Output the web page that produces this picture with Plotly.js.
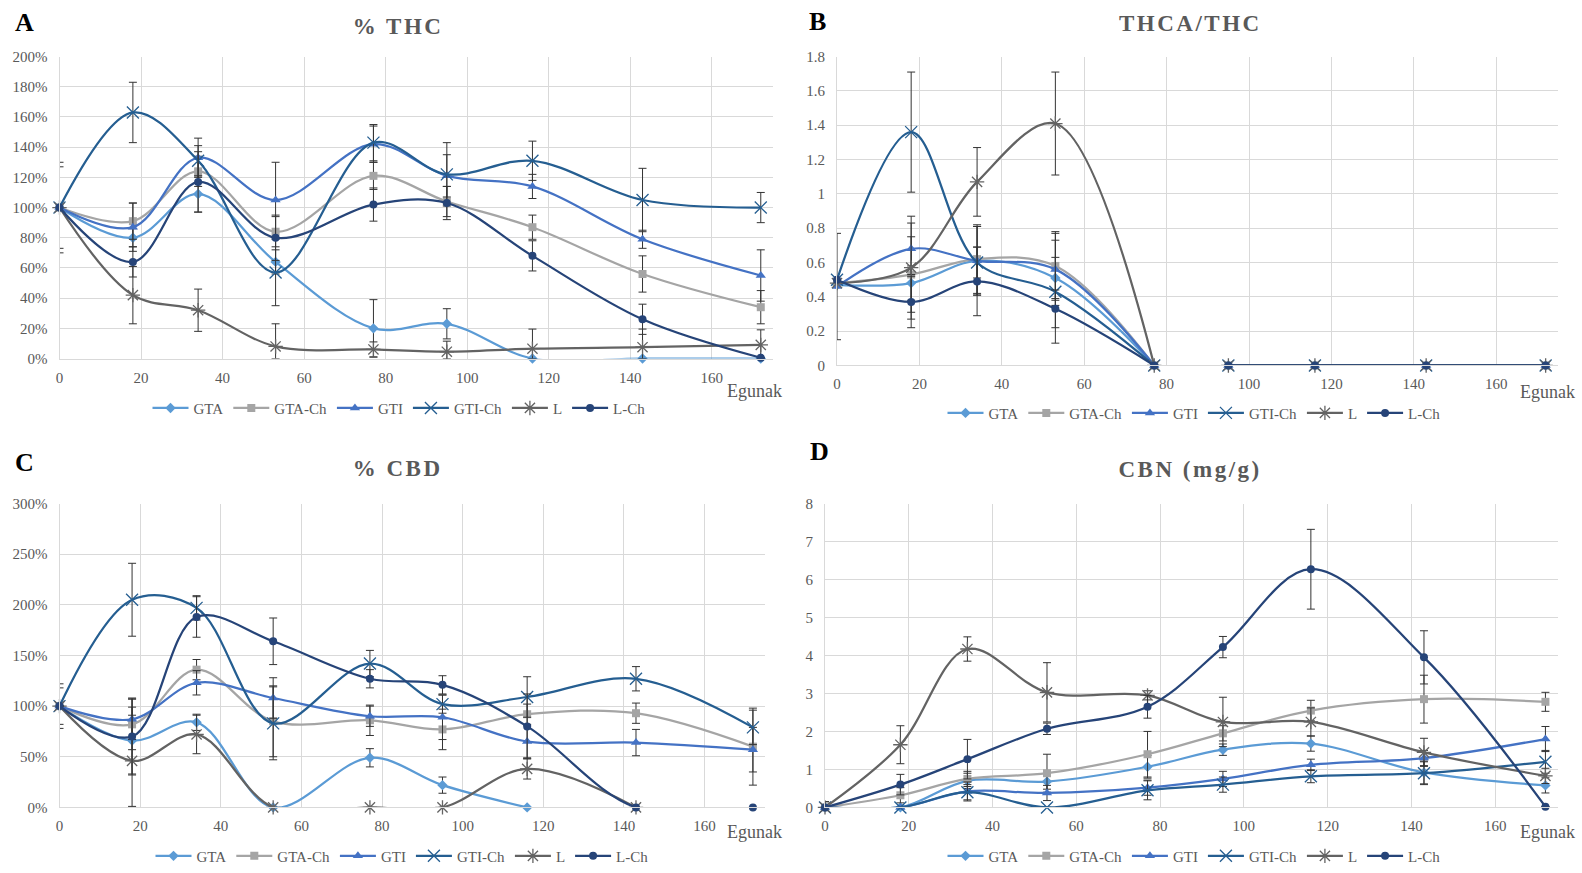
<!DOCTYPE html>
<html>
<head>
<meta charset="utf-8">
<script src="https://cdn.plot.ly/plotly-3.0.1.min.js"></script>
<style>
  html, body { margin: 0; padding: 0; background: #fff; }
  #chart { width: 1582px; height: 873px; }
</style>
</head>
<body>
<div id="chart"></div>
<script>
// ---------- DATA ----------
const days = [0, 18, 34, 53, 77, 95, 116, 143, 172];
const seriesNames = ['GTA', 'GTA-Ch', 'GTI', 'GTI-Ch', 'L', 'L-Ch'];
const panelTitles = ['% THC', 'THCA/THC', '% CBD', 'CBN (mg/g)'];
const panelLetters = ['A', 'B', 'C', 'D'];
const xAxisLabel = 'Egunak';

// A: % THC
const thcGTA    = [100, 80, 109, 64, 20, 23, 0, 0, 0];
const thcGTACh  = [100, 91, 124, 84, 121, 104, 87, 56, 34];
const thcGTI    = [100, 87, 133, 105, 142, 121, 114, 79, 55];
const thcGTICh  = [100, 163, 131, 57, 143, 122, 131, 105, 100];
const thcL      = [100, 42, 32, 8, 6, 4.5, 6.5, 7.5, 9];
const thcLCh    = [100, 64, 117, 80, 102, 103, 68, 26, 0.5];
const thcGTAErr   = [0, 6, 12, 8, 19, 10, 0, 0, 0];
const thcGTAChErr = [0, 12, 10, 10, 9, 10, 8, 12, 11];
const thcGTIErr   = [0, 16, 13, 25, 12, 14, 8, 6, 17];
const thcGTIChErr = [0, 20, 10, 22, 12, 21, 13, 21, 10];
const thcLErr     = [30, 19, 14, 15, 5, 7, 13, 12, 10];
const thcLChErr   = [27, 10, 20, 15, 11, 11, 10, 10, 0];

// B: THCA/THC
const rGTA    = [0.47, 0.48, 0.61, 0.51, 0, 0, 0, 0, 0];
const rGTACh  = [0.48, 0.53, 0.62, 0.58, 0, 0, 0, 0, 0];
const rGTI    = [0.46, 0.68, 0.61, 0.56, 0, 0, 0, 0, 0];
const rGTICh  = [0.50, 1.36, 0.60, 0.43, 0, 0, 0, 0, 0];
const rL      = [0.48, 0.57, 1.07, 1.41, 0, 0, 0, 0, 0];
const rLCh    = [0.50, 0.37, 0.49, 0.33, 0, 0, 0, 0, 0];
const rGTAErr   = [0, 0.10, 0.20, 0.12, 0, 0, 0, 0, 0];
const rGTAChErr = [0, 0.22, 0.20, 0.20, 0, 0, 0, 0, 0];
const rGTIErr   = [0.31, 0.15, 0.20, 0.21, 0, 0, 0, 0, 0];
const rGTIChErr = [0, 0.35, 0.09, 0.30, 0, 0, 0, 0, 0];
const rLErr     = [0, 0.30, 0.20, 0.30, 0, 0, 0, 0, 0];
const rLChErr   = [0, 0.15, 0.20, 0.11, 0, 0, 0, 0, 0];
const rBreakAfter = 4; // the THCA/THC lines break between day 77 and day 95

// C: % CBD
const cbdGTA    = [100, 66, 84, 0, 49, 22, 0, null, null];
const cbdGTACh  = [100, 82, 136, 85, 86, 77, 92, 93, 60];
const cbdGTI    = [100, 87, 123, 108, 90, 89, 65, 64, 57];
const cbdGTICh  = [100, 205, 197, 83, 142, 102, 109, 127, 79];
const cbdL      = [100, 46, 72, 0, 0, 0, 38, 0, null];
const cbdLCh    = [100, 70, 188, 164, 127, 121, 80, 0, 0];
const cbdGTAErr   = [0, 33, 8, 0, 9, 8, 0, 0, 0];
const cbdGTAChErr = [18, 25, 10, 35, 15, 20, 10, 10, 38];
const cbdGTIErr   = [0, 20, 12, 20, 10, 22, 16, 13, 22];
const cbdGTIChErr = [22, 36, 12, 36, 13, 9, 20, 12, 17];
const cbdLErr     = [0, 45, 19, 0, 0, 0, 10, 0, 0];
const cbdLChErr   = [0, 38, 20, 23, 9, 9, 32, 0, 0];

// D: CBN (mg/g)
const cbnGTA    = [0, 0, 0.70, 0.68, 1.07, 1.52, 1.68, 0.92, 0.58];
const cbnGTACh  = [0, 0.32, 0.75, 0.90, 1.40, 1.95, 2.55, 2.85, 2.78];
const cbnGTI    = [0, 0, 0.42, 0.38, 0.52, 0.75, 1.12, 1.30, 1.80];
const cbnGTICh  = [0, 0, 0.40, 0, 0.45, 0.60, 0.82, 0.90, 1.20];
const cbnL      = [0, 1.65, 4.17, 3.03, 2.95, 2.25, 2.25, 1.45, 0.83];
const cbnLCh    = [0, 0.60, 1.27, 2.07, 2.65, 4.22, 6.27, 3.95, 0.02];
const cbnGTAErr   = [0, 0, 0.2, 0.2, 0.3, 0.15, 0.2, 0.3, 0.2];
const cbnGTAChErr = [0.15, 0.2, 0.2, 0.5, 0.6, 0.2, 0.27, 0.63, 0.25];
const cbnGTIErr   = [0, 0, 0.25, 0.2, 0.2, 0.2, 0.15, 0.2, 0.33];
const cbnGTIChErr = [0, 0, 0.2, 0, 0.25, 0.2, 0.17, 0.3, 0.3];
const cbnLErr     = [0.15, 0.5, 0.32, 0.78, 0.12, 0.65, 0.37, 0.37, 0.2];
const cbnLChErr   = [0, 0.27, 0.52, 0.15, 0.3, 0.28, 1.05, 0.7, 0];

// ---------- STYLE ----------
const W = 1582, H = 873;
const styles = [
  {color: '#5B9BD5', symbol: 'diamond', size: 8},
  {color: '#A5A5A5', symbol: 'square', size: 8},
  {color: '#4472C4', symbol: 'triangle-up', size: 9},
  {color: '#255E91', symbol: 'x-thin-open', size: 12, thin: true},
  {color: '#636363', symbol: 'asterisk-open', size: 12, thin: true},
  {color: '#264478', symbol: 'circle', size: 8}
];
const serif = 'Liberation Serif, Times New Roman, serif';
const tickFont = {family: serif, size: 15, color: '#595959'};

const panels = [
  {vals: [thcGTA, thcGTACh, thcGTI, thcGTICh, thcL, thcLCh],
   errs: [thcGTAErr, thcGTAChErr, thcGTIErr, thcGTIChErr, thcLErr, thcLChErr],
   px: [59.5, 773], py: [57, 361], yr: [0, 200], dt: 20, suf: '%',
   title: [398, 27], letter: [25, 23], legend: [399, 411], eg: [784, 394]},
  {vals: [rGTA, rGTACh, rGTI, rGTICh, rL, rLCh],
   errs: [rGTAErr, rGTAChErr, rGTIErr, rGTIChErr, rLErr, rLChErr],
   px: [837, 1558], py: [57, 368], yr: [0, 1.8], dt: 0.2, suf: '',
   title: [1190, 24], letter: [817, 22], legend: [1194, 416], eg: [1577, 395], split: rBreakAfter},
  {vals: [cbdGTA, cbdGTACh, cbdGTI, cbdGTICh, cbdL, cbdLCh],
   errs: [cbdGTAErr, cbdGTAChErr, cbdGTIErr, cbdGTIChErr, cbdLErr, cbdLChErr],
   px: [59.5, 765], py: [507, 813], yr: [0, 300], dt: 50, suf: '%',
   title: [398, 472], letter: [24, 466], legend: [402, 862], eg: [784, 838]},
  {vals: [cbnGTA, cbnGTACh, cbnGTI, cbnGTICh, cbnL, cbnLCh],
   errs: [cbnGTAErr, cbnGTAChErr, cbnGTIErr, cbnGTIChErr, cbnLErr, cbnLChErr],
   px: [825, 1558], py: [507, 813], yr: [0, 8], dt: 1, suf: '',
   title: [1190, 473], letter: [819, 455], legend: [1194, 862], eg: [1577, 838]}
];

const traces = [];
const layout = {
  width: W, height: H,
  margin: {l: 0, r: 0, t: 0, b: 0},
  paper_bgcolor: '#ffffff', plot_bgcolor: '#ffffff',
  showlegend: true,
  annotations: []
};

panels.forEach((p, pi) => {
  const sfx = pi === 0 ? '' : String(pi + 1);
  const xName = 'x' + sfx, yName = 'y' + sfx;
  const legName = 'legend' + sfx;
  layout['xaxis' + sfx] = {
    domain: [p.px[0] / W, p.px[1] / W], anchor: yName,
    range: [0, 175], tick0: 0, dtick: 20,
    showgrid: true, gridcolor: '#D9D9D9', gridwidth: 1,
    zeroline: false, showline: true, linecolor: '#D9D9D9', linewidth: 1,
    ticks: '', tickfont: tickFont, ticklabelstandoff: 5, fixedrange: true
  };
  layout['yaxis' + sfx] = {
    domain: [1 - p.py[1] / H, 1 - p.py[0] / H], anchor: xName,
    range: p.yr, tick0: 0, dtick: p.dt, ticksuffix: p.suf,
    showgrid: true, gridcolor: '#D9D9D9', gridwidth: 1,
    zeroline: false, showline: true, linecolor: '#D9D9D9', linewidth: 1,
    ticks: '', tickfont: tickFont, ticklabelstandoff: 8, fixedrange: true
  };
  layout[legName] = {
    orientation: 'h', x: p.legend[0] / W, y: 1 - p.legend[1] / H,
    xanchor: 'center', yanchor: 'middle', xref: 'paper', yref: 'paper',
    bgcolor: 'rgba(0,0,0,0)', font: {family: serif, size: 15, color: '#595959'},
    itemwidth: 36, itemclick: false, itemdoubleclick: false
  };
  layout.annotations.push({
    xref: 'paper', yref: 'paper', x: p.title[0] / W, y: 1 - p.title[1] / H,
    xanchor: 'center', yanchor: 'middle', showarrow: false,
    text: '<b>' + panelTitles[pi] + '</b>',
    font: {family: serif, size: 23, color: '#595959'}
  });
  layout.annotations.push({
    xref: 'paper', yref: 'paper', x: p.letter[0] / W, y: 1 - p.letter[1] / H,
    xanchor: 'center', yanchor: 'middle', showarrow: false,
    text: '<b>' + panelLetters[pi] + '</b>',
    font: {family: serif, size: 26, color: '#000000'}
  });
  layout.annotations.push({
    xref: 'paper', yref: 'paper', x: p.eg[0] / W, y: 1 - p.eg[1] / H,
    xanchor: 'right', yanchor: 'middle', showarrow: false,
    text: xAxisLabel,
    font: {family: serif, size: 18, color: '#595959'}
  });

  seriesNames.forEach((name, si) => {
    const st = styles[si];
    const yv = p.vals[si], ev = p.errs[si];
    const segments = p.split !== undefined
      ? [[0, p.split + 1], [p.split + 1, days.length]]
      : [[0, days.length]];
    segments.forEach((seg, gi) => {
      const xs = days.slice(seg[0], seg[1]);
      const ys = yv.slice(seg[0], seg[1]);
      const es = ev.slice(seg[0], seg[1]);
      const em = es.map((e, i) => ys[i] == null ? 0 : Math.min(e, ys[i]));
      traces.push({
        type: 'scatter', mode: 'lines+markers',
        x: xs, y: ys, name: name,
        xaxis: xName, yaxis: yName, legend: legName,
        showlegend: gi === 0,
        cliponaxis: false,
        line: {color: st.color, width: 2.25, shape: 'spline', smoothing: 1},
        marker: st.thin
          ? {symbol: st.symbol, size: st.size, color: st.color, line: {color: st.color, width: 1.3}}
          : {symbol: st.symbol, size: st.size, color: st.color, line: {width: 0}},
        error_y: {type: 'data', symmetric: false, array: es, arrayminus: em,
                  color: '#333333', thickness: 1, width: 4},
        hoverinfo: 'skip'
      });
    });
  });
});

Plotly.newPlot('chart', traces, layout, {staticPlot: true, displayModeBar: false}).then(() => {
  document.querySelectorAll('.annotation-text').forEach(t => {
    if (panelTitles.indexOf(t.textContent) >= 0) t.style.letterSpacing = '2.5px';
  });
});
</script>
</body>
</html>
